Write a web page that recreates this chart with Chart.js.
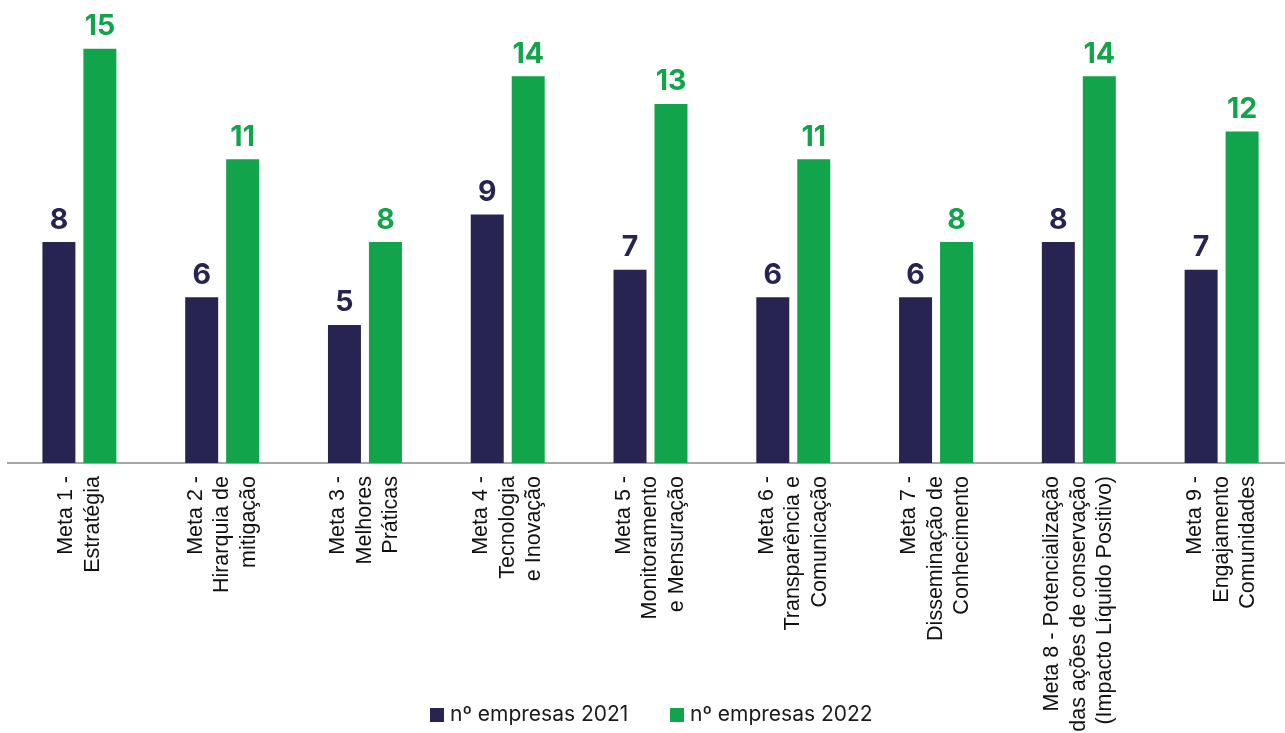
<!DOCTYPE html>
<html>
<head>
<meta charset="utf-8">
<script src="https://cdn.jsdelivr.net/npm/chart.js@4"></script>
<style>
  html, body { margin: 0; padding: 0; background: #fff; overflow: hidden; }
  #wrap { position: relative; width: 1293px; height: 733px; }
  #legend { position: absolute; top: 700px; left: 0; width: 1285px; font-family: Inter, sans-serif; font-size: 21px; color: #1a1a1a; }
  .item { position: absolute; top: 0; height: 28px; line-height: 28px; white-space: nowrap; }
  .box { display: inline-block; width: 14px; height: 14px; vertical-align: -1px; margin-right: 6px; }
</style>
</head>
<body>
<div id="wrap">
  <canvas id="chart" width="1293" height="733"></canvas>
  <div id="legend"></div>
</div>
<script>
  const categories = [
    ['Meta 1 -', 'Estratégia'],
    ['Meta 2 -', 'Hirarquia de', 'mitigação'],
    ['Meta 3 -', 'Melhores', 'Práticas'],
    ['Meta 4 -', 'Tecnologia', 'e Inovação'],
    ['Meta 5 -', 'Monitoramento', 'e Mensuração'],
    ['Meta 6 -', 'Transparência e', 'Comunicação'],
    ['Meta 7 -', 'Disseminação de', 'Conhecimento'],
    ['Meta 8 - Potencialização', 'das ações de conservação', '(Impacto Líquido Positivo)'],
    ['Meta 9 -', 'Engajamento', 'Comunidades']
  ];
  const values2021 = [8, 6, 5, 9, 7, 6, 6, 8, 7];
  const values2022 = [15, 11, 8, 14, 13, 11, 8, 14, 12];
  const seriesNames = ['nº empresas 2021', 'nº empresas 2022'];
  const seriesColors = ['#282452', '#11a44b'];

  // value labels above each bar
  const valueLabels = {
    id: 'valueLabels',
    afterDatasetsDraw(chart) {
      const ctx = chart.ctx;
      ctx.save();
      ctx.font = 'bold 28.5px Inter, sans-serif';
      ctx.textAlign = 'center';
      ctx.textBaseline = 'alphabetic';
      chart.data.datasets.forEach((ds, di) => {
        chart.getDatasetMeta(di).data.forEach((bar, i) => {
          ctx.fillStyle = ds.backgroundColor;
          ctx.fillText(String(ds.data[i]), bar.x, bar.y - 13.5);
        });
      });
      ctx.restore();
    }
  };

  // rotated multi-line category labels, centred on each tick
  const categoryLabels = {
    id: 'categoryLabels',
    afterDraw(chart) {
      const ctx = chart.ctx;
      const xScale = chart.scales.x;
      const top = chart.chartArea.bottom + 13;
      const pitch = 26.5;
      ctx.save();
      ctx.font = '21.5px "Liberation Sans", Arial, sans-serif';
      ctx.fillStyle = '#111';
      ctx.textAlign = 'right';
      ctx.textBaseline = 'middle';
      categories.forEach((lines, i) => {
        const x = xScale.getPixelForTick(i);
        ctx.save();
        ctx.translate(x, top);
        ctx.rotate(-Math.PI / 2);
        lines.forEach((line, j) => {
          ctx.fillText(line, 0, (j - (lines.length - 1) / 2) * pitch);
        });
        ctx.restore();
      });
      ctx.restore();
    }
  };

  new Chart(document.getElementById('chart'), {
    type: 'bar',
    data: {
      labels: categories.map((c) => c.join(' ')),
      datasets: [
        { label: seriesNames[0], data: values2021, backgroundColor: seriesColors[0] },
        { label: seriesNames[1], data: values2022, backgroundColor: seriesColors[1] }
      ]
    },
    options: {
      responsive: false,
      animation: false,
      layout: { padding: { left: 8, right: 0, top: 21, bottom: 0 } },
      categoryPercentage: 0.574,
      barPercentage: 0.805,
      scales: {
        x: {
          grid: { display: true, color: 'rgba(0,0,0,0)', drawTicks: false },
          border: { display: true, color: '#a6a6a6', width: 2 },
          ticks: { display: false },
          afterFit(scale) { scale.height = 733 - 463; }
        },
        y: {
          display: false,
          min: 0,
          max: 16
        }
      },
      plugins: {
        legend: { display: false },
        tooltip: { enabled: false }
      }
    },
    plugins: [valueLabels, categoryLabels]
  });

  const legend = document.getElementById('legend');
  const legendLeft = [430, 670];
  seriesNames.forEach((name, i) => {
    const item = document.createElement('div');
    item.className = 'item';
    item.style.left = legendLeft[i] + 'px';
    item.innerHTML = `<span class="box" style="background:${seriesColors[i]}"></span>${name}`;
    legend.appendChild(item);
  });
</script>
</body>
</html>
